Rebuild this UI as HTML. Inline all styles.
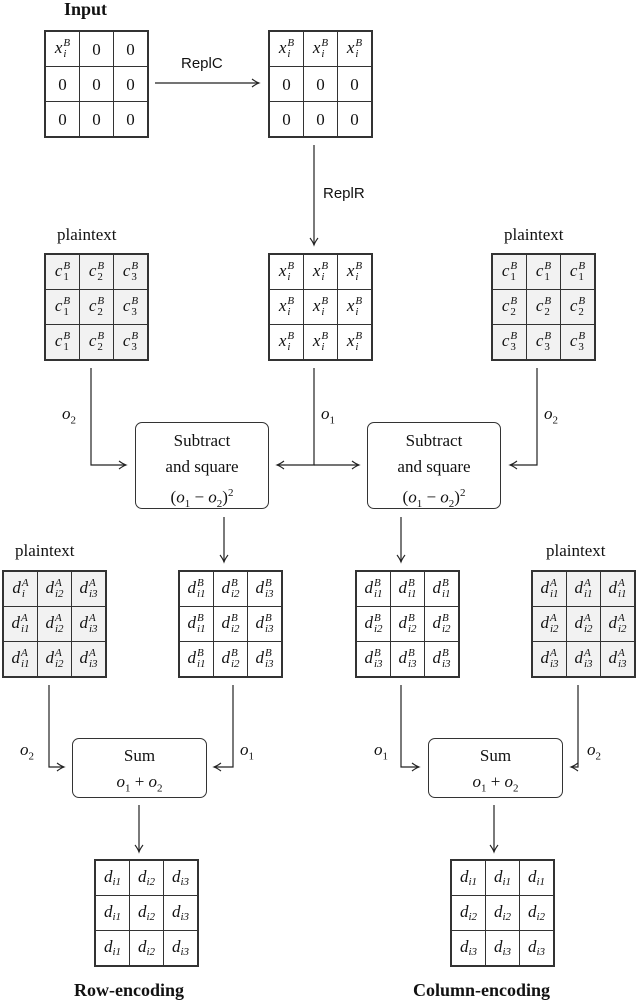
<!DOCTYPE html>
<html><head><meta charset="utf-8">
<style>
body{margin:0;width:636px;height:1004px;background:#fff;position:relative;overflow:hidden;font-family:"Liberation Serif",serif;color:#111}
.mx{position:absolute;border-collapse:collapse;border:2px solid #333}
.mx td{border:1px solid #333;width:33px;height:34px;padding:0;text-align:center;font-size:17px;line-height:1}
.g td{background:#f2f2f2}
.v{font-style:italic}
.ss{display:inline-block;vertical-align:middle;font-size:11px;line-height:11px;text-align:left;margin-left:1px}
.ss i{display:block}
.ss span{display:block;font-style:normal}
.sb{font-size:11px;font-style:italic;vertical-align:-3px}
.sb b{font-weight:normal;font-style:normal}
.t{position:absolute;font-size:17px;white-space:nowrap}
.box{position:absolute;border:1.5px solid #333;border-radius:7px;text-align:center;font-size:17px;box-sizing:border-box}
.h{position:absolute;font-weight:bold;font-size:18px;white-space:nowrap}
</style></head><body>
<svg width="636" height="1004" style="position:absolute;left:0;top:0">
<defs><marker id="a" markerWidth="10" markerHeight="10" refX="8" refY="5" orient="auto" markerUnits="userSpaceOnUse"><path d="M1,1 Q5,4 8,5 Q5,6 1,9" fill="none" stroke="#222" stroke-width="1.1"/></marker></defs>
<g stroke="#222" stroke-width="1.2" fill="none" marker-end="url(#a)">
<path d="M155,83 H259"/>
<path d="M314,145 V245"/>
<path d="M91,368 V465 H126"/>
<path d="M314,368 V465 H277"/>
<path d="M314,465 H359"/>
<path d="M537,368 V465 H510"/>
<path d="M224,517 V562"/>
<path d="M401,517 V562"/>
<path d="M49,685 V767 H64"/>
<path d="M233,685 V767 H214"/>
<path d="M401,685 V767 H419"/>
<path d="M578,685 V767 H571"/>
<path d="M139,805 V852"/>
<path d="M494,805 V852"/>
</g></svg>

<div class="h" style="left:64px;top:-1px">Input</div>

<table class="mx" style="left:44px;top:30px"><tr><td><span class="v">x</span><span class="ss"><i>B</i><i>i</i></span></td><td>0</td><td>0</td></tr><tr><td>0</td><td>0</td><td>0</td></tr><tr><td>0</td><td>0</td><td>0</td></tr></table>
<div class="t" style="left:181px;top:55px;font-family:'Liberation Sans',sans-serif;font-size:15px">ReplC</div>
<table class="mx" style="left:268px;top:30px"><tr><td><span class="v">x</span><span class="ss"><i>B</i><i>i</i></span></td><td><span class="v">x</span><span class="ss"><i>B</i><i>i</i></span></td><td><span class="v">x</span><span class="ss"><i>B</i><i>i</i></span></td></tr><tr><td>0</td><td>0</td><td>0</td></tr><tr><td>0</td><td>0</td><td>0</td></tr></table>
<div class="t" style="left:323px;top:185px;font-family:'Liberation Sans',sans-serif;font-size:15px">ReplR</div>

<div class="t" style="left:57px;top:225px">plaintext</div>
<table class="mx g" style="left:44px;top:253px">
<tr><td><span class="v">c</span><span class="ss"><i>B</i><span>1</span></span></td><td><span class="v">c</span><span class="ss"><i>B</i><span>2</span></span></td><td><span class="v">c</span><span class="ss"><i>B</i><span>3</span></span></td></tr>
<tr><td><span class="v">c</span><span class="ss"><i>B</i><span>1</span></span></td><td><span class="v">c</span><span class="ss"><i>B</i><span>2</span></span></td><td><span class="v">c</span><span class="ss"><i>B</i><span>3</span></span></td></tr>
<tr><td><span class="v">c</span><span class="ss"><i>B</i><span>1</span></span></td><td><span class="v">c</span><span class="ss"><i>B</i><span>2</span></span></td><td><span class="v">c</span><span class="ss"><i>B</i><span>3</span></span></td></tr></table>

<table class="mx" style="left:268px;top:253px">
<tr><td><span class="v">x</span><span class="ss"><i>B</i><i>i</i></span></td><td><span class="v">x</span><span class="ss"><i>B</i><i>i</i></span></td><td><span class="v">x</span><span class="ss"><i>B</i><i>i</i></span></td></tr>
<tr><td><span class="v">x</span><span class="ss"><i>B</i><i>i</i></span></td><td><span class="v">x</span><span class="ss"><i>B</i><i>i</i></span></td><td><span class="v">x</span><span class="ss"><i>B</i><i>i</i></span></td></tr>
<tr><td><span class="v">x</span><span class="ss"><i>B</i><i>i</i></span></td><td><span class="v">x</span><span class="ss"><i>B</i><i>i</i></span></td><td><span class="v">x</span><span class="ss"><i>B</i><i>i</i></span></td></tr></table>

<div class="t" style="left:504px;top:225px">plaintext</div>
<table class="mx g" style="left:491px;top:253px">
<tr><td><span class="v">c</span><span class="ss"><i>B</i><span>1</span></span></td><td><span class="v">c</span><span class="ss"><i>B</i><span>1</span></span></td><td><span class="v">c</span><span class="ss"><i>B</i><span>1</span></span></td></tr>
<tr><td><span class="v">c</span><span class="ss"><i>B</i><span>2</span></span></td><td><span class="v">c</span><span class="ss"><i>B</i><span>2</span></span></td><td><span class="v">c</span><span class="ss"><i>B</i><span>2</span></span></td></tr>
<tr><td><span class="v">c</span><span class="ss"><i>B</i><span>3</span></span></td><td><span class="v">c</span><span class="ss"><i>B</i><span>3</span></span></td><td><span class="v">c</span><span class="ss"><i>B</i><span>3</span></span></td></tr></table>

<div class="t" style="left:62px;top:404px"><i>o</i><sub style="font-size:11px">2</sub></div>
<div class="t" style="left:321px;top:404px"><i>o</i><sub style="font-size:11px">1</sub></div>
<div class="t" style="left:544px;top:404px"><i>o</i><sub style="font-size:11px">2</sub></div>

<div class="box" style="left:135px;top:422px;width:134px;height:87px;padding-top:5px;line-height:26px">Subtract<br>and square<br>(<i>o</i><sub style="font-size:11px">1</sub> − <i>o</i><sub style="font-size:11px">2</sub>)<sup style="font-size:11px">2</sup></div>
<div class="box" style="left:367px;top:422px;width:134px;height:87px;padding-top:5px;line-height:26px">Subtract<br>and square<br>(<i>o</i><sub style="font-size:11px">1</sub> − <i>o</i><sub style="font-size:11px">2</sub>)<sup style="font-size:11px">2</sup></div>

<div class="t" style="left:15px;top:541px">plaintext</div>
<table class="mx g" style="left:2px;top:570px">
<tr><td><span class="v">d</span><span class="ss"><i>A</i><i>i</i></span></td><td><span class="v">d</span><span class="ss"><i>A</i><i>i2</i></span></td><td><span class="v">d</span><span class="ss"><i>A</i><i>i3</i></span></td></tr>
<tr><td><span class="v">d</span><span class="ss"><i>A</i><i>i1</i></span></td><td><span class="v">d</span><span class="ss"><i>A</i><i>i2</i></span></td><td><span class="v">d</span><span class="ss"><i>A</i><i>i3</i></span></td></tr>
<tr><td><span class="v">d</span><span class="ss"><i>A</i><i>i1</i></span></td><td><span class="v">d</span><span class="ss"><i>A</i><i>i2</i></span></td><td><span class="v">d</span><span class="ss"><i>A</i><i>i3</i></span></td></tr></table>

<table class="mx" style="left:178px;top:570px">
<tr><td><span class="v">d</span><span class="ss"><i>B</i><i>i1</i></span></td><td><span class="v">d</span><span class="ss"><i>B</i><i>i2</i></span></td><td><span class="v">d</span><span class="ss"><i>B</i><i>i3</i></span></td></tr>
<tr><td><span class="v">d</span><span class="ss"><i>B</i><i>i1</i></span></td><td><span class="v">d</span><span class="ss"><i>B</i><i>i2</i></span></td><td><span class="v">d</span><span class="ss"><i>B</i><i>i3</i></span></td></tr>
<tr><td><span class="v">d</span><span class="ss"><i>B</i><i>i1</i></span></td><td><span class="v">d</span><span class="ss"><i>B</i><i>i2</i></span></td><td><span class="v">d</span><span class="ss"><i>B</i><i>i3</i></span></td></tr></table>

<table class="mx" style="left:355px;top:570px">
<tr><td><span class="v">d</span><span class="ss"><i>B</i><i>i1</i></span></td><td><span class="v">d</span><span class="ss"><i>B</i><i>i1</i></span></td><td><span class="v">d</span><span class="ss"><i>B</i><i>i1</i></span></td></tr>
<tr><td><span class="v">d</span><span class="ss"><i>B</i><i>i2</i></span></td><td><span class="v">d</span><span class="ss"><i>B</i><i>i2</i></span></td><td><span class="v">d</span><span class="ss"><i>B</i><i>i2</i></span></td></tr>
<tr><td><span class="v">d</span><span class="ss"><i>B</i><i>i3</i></span></td><td><span class="v">d</span><span class="ss"><i>B</i><i>i3</i></span></td><td><span class="v">d</span><span class="ss"><i>B</i><i>i3</i></span></td></tr></table>

<div class="t" style="left:546px;top:541px">plaintext</div>
<table class="mx g" style="left:531px;top:570px">
<tr><td><span class="v">d</span><span class="ss"><i>A</i><i>i1</i></span></td><td><span class="v">d</span><span class="ss"><i>A</i><i>i1</i></span></td><td><span class="v">d</span><span class="ss"><i>A</i><i>i1</i></span></td></tr>
<tr><td><span class="v">d</span><span class="ss"><i>A</i><i>i2</i></span></td><td><span class="v">d</span><span class="ss"><i>A</i><i>i2</i></span></td><td><span class="v">d</span><span class="ss"><i>A</i><i>i2</i></span></td></tr>
<tr><td><span class="v">d</span><span class="ss"><i>A</i><i>i3</i></span></td><td><span class="v">d</span><span class="ss"><i>A</i><i>i3</i></span></td><td><span class="v">d</span><span class="ss"><i>A</i><i>i3</i></span></td></tr></table>

<div class="t" style="left:20px;top:740px"><i>o</i><sub style="font-size:11px">2</sub></div>
<div class="t" style="left:240px;top:740px"><i>o</i><sub style="font-size:11px">1</sub></div>
<div class="t" style="left:374px;top:740px"><i>o</i><sub style="font-size:11px">1</sub></div>
<div class="t" style="left:587px;top:740px"><i>o</i><sub style="font-size:11px">2</sub></div>

<div class="box" style="left:72px;top:738px;width:135px;height:60px;padding-top:4px;line-height:26px">Sum<br><i>o</i><sub style="font-size:11px">1</sub> + <i>o</i><sub style="font-size:11px">2</sub></div>
<div class="box" style="left:428px;top:738px;width:135px;height:60px;padding-top:4px;line-height:26px">Sum<br><i>o</i><sub style="font-size:11px">1</sub> + <i>o</i><sub style="font-size:11px">2</sub></div>

<table class="mx" style="left:94px;top:859px">
<tr><td><i>d</i><span class="sb">i1</span></td><td><i>d</i><span class="sb">i2</span></td><td><i>d</i><span class="sb">i3</span></td></tr>
<tr><td><i>d</i><span class="sb">i1</span></td><td><i>d</i><span class="sb">i2</span></td><td><i>d</i><span class="sb">i3</span></td></tr>
<tr><td><i>d</i><span class="sb">i1</span></td><td><i>d</i><span class="sb">i2</span></td><td><i>d</i><span class="sb">i3</span></td></tr></table>
<table class="mx" style="left:450px;top:859px">
<tr><td><i>d</i><span class="sb">i1</span></td><td><i>d</i><span class="sb">i1</span></td><td><i>d</i><span class="sb">i1</span></td></tr>
<tr><td><i>d</i><span class="sb">i2</span></td><td><i>d</i><span class="sb">i2</span></td><td><i>d</i><span class="sb">i2</span></td></tr>
<tr><td><i>d</i><span class="sb">i3</span></td><td><i>d</i><span class="sb">i3</span></td><td><i>d</i><span class="sb">i3</span></td></tr></table>

<div class="h" style="left:74px;top:980px">Row-encoding</div>
<div class="h" style="left:413px;top:980px">Column-encoding</div>
</body></html>
